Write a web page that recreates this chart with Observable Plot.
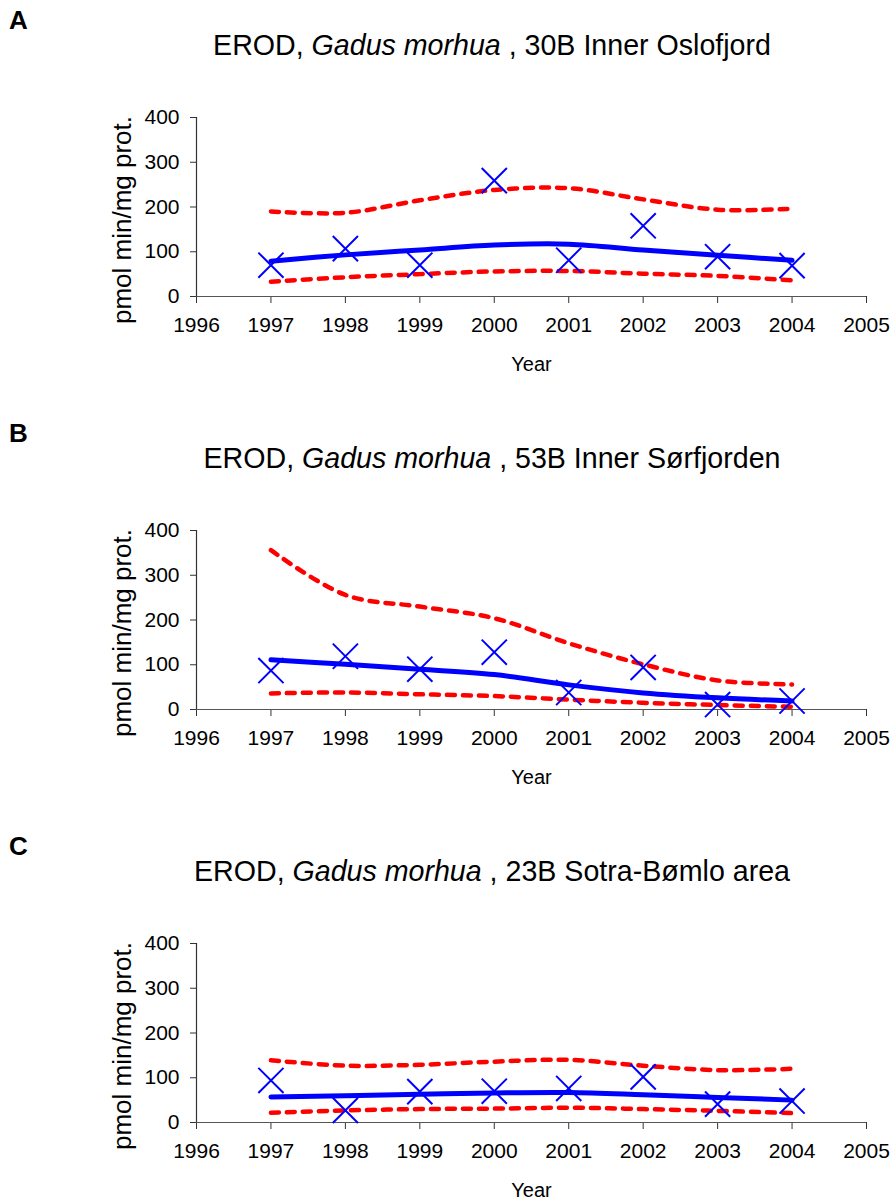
<!DOCTYPE html>
<html>
<head>
<meta charset="utf-8">
<script src="https://cdn.jsdelivr.net/npm/d3@7"></script>
<script src="https://cdn.jsdelivr.net/npm/@observablehq/plot@0.6"></script>
<style>
  body { margin: 0; background: #fff; font-family: "Liberation Sans", Arial, sans-serif; }
  #root { position: relative; width: 893px; }
  .panel { position: relative; width: 893px; height: 413px; }
  .panel svg { position: absolute; left: 0; top: 0; }
  .letter { position: absolute; left: 9px; top: 7px; font-size: 26px; font-weight: bold; line-height: 26px; }
  .title { position: absolute; left: 492px; top: 31px; transform: translateX(-50%); white-space: nowrap; font-size: 28.6px; line-height: 28.6px; }
</style>
</head>
<body>
<div id="root"></div>
<script>
const years = [1997, 1998, 1999, 2000, 2001, 2002, 2003, 2004];
const xTicks = [1996, 1997, 1998, 1999, 2000, 2001, 2002, 2003, 2004, 2005];
const yTicks = [0, 100, 200, 300, 400];
const letters = ["A", "B", "C"];
const stations = ["30B Inner Oslofjord", "53B Inner Sørfjorden", "23B Sotra-Bømlo area"];
const yLabel = "pmol min/mg prot.";
const xLabel = "Year";

// Panel A
const aLine = [79, 93, 104, 115, 117, 104, 92, 81];
const aObs = [70, 107, 70, 259, 81, 158, 89, 69];
const aUpper = [190, 187, 215, 238, 242, 217, 194, 196];
const aLower = [33, 43, 50, 56, 57, 51, 46, 36];
// Panel B
const bLine = [111, 101, 90, 78, 55, 37, 26, 19];
const bObs = [87, 119, 90, 128, 38, 94, 11, 19];
const bUpper = [356, 256, 230, 204, 148, 101, 65, 56];
const bLower = [36, 38, 34, 30, 22, 15, 10, 6];
// Panel C
const cLine = [57, 60, 63, 66, 67, 62, 56, 50];
const cObs = [94, 27, 69, 70, 76, 102, 41, 48];
const cUpper = [139, 127, 129, 136, 140, 127, 117, 120];
const cLower = [22, 27, 30, 31, 33, 30, 26, 21];

const panels = [
  [aLine, aObs, aUpper, aLower],
  [bLine, bObs, bUpper, bLower],
  [cLine, cObs, cUpper, cLower]
];

const toRows = (vals) => years.map((year, i) => ({year, v: vals[i]}));

function makePlot(line, obs, upper, lower) {
  const dash = {x: "year", y: "v", curve: "catmull-rom", stroke: "#ff0000", strokeWidth: 4.5, strokeDasharray: "8,8"};
  return Plot.plot({
    width: 893,
    height: 413,
    marginTop: 117,
    marginBottom: 117,
    marginLeft: 196,
    marginRight: 27,
    style: {fontFamily: "'Liberation Sans', Arial, sans-serif", fontSize: "21px", color: "#000", background: "transparent", overflow: "visible"},
    x: {domain: [1996, 2005]},
    y: {domain: [0, 400]},
    marks: [
      Plot.axisX({ticks: xTicks, tickFormat: (d) => String(d), tickSize: 7, tickPadding: 14, label: null, fontSize: 21, stroke: "#333"}),
      Plot.axisY({ticks: yTicks, tickSize: 6, tickPadding: 11, label: null, fontSize: 21, stroke: "#333"}),
      Plot.ruleY([0], {stroke: "#555", strokeWidth: 1.2}),
      Plot.ruleX([1996], {stroke: "#333", strokeWidth: 1.2}),
      Plot.line(toRows(upper), dash),
      Plot.line(toRows(lower), dash),
      Plot.line(toRows(line), {x: "year", y: "v", curve: "catmull-rom", stroke: "#0000ff", strokeWidth: 5}),
      Plot.dot(toRows(obs), {x: "year", y: "v", symbol: "times", r: 11.5, stroke: "#0000ff", strokeWidth: 2}),
      Plot.text([yLabel], {frameAnchor: "left", textAnchor: "middle", lineAnchor: "middle", rotate: -90, dx: -74, dy: 13, fontSize: 26}),
      Plot.text([xLabel], {frameAnchor: "bottom", textAnchor: "middle", lineAnchor: "middle", dy: 68, fontSize: 20})
    ]
  });
}

const root = document.getElementById("root");
panels.forEach(([line, obs, upper, lower], i) => {
  const div = document.createElement("div");
  div.className = "panel";
  div.appendChild(makePlot(line, obs, upper, lower));
  const letter = document.createElement("div");
  letter.className = "letter";
  letter.textContent = letters[i];
  div.appendChild(letter);
  const title = document.createElement("div");
  title.className = "title";
  title.append("EROD, ");
  const it = document.createElement("i");
  it.textContent = "Gadus morhua";
  title.append(it);
  title.append(" , " + stations[i]);
  div.appendChild(title);
  root.appendChild(div);
});
</script>
</body>
</html>
